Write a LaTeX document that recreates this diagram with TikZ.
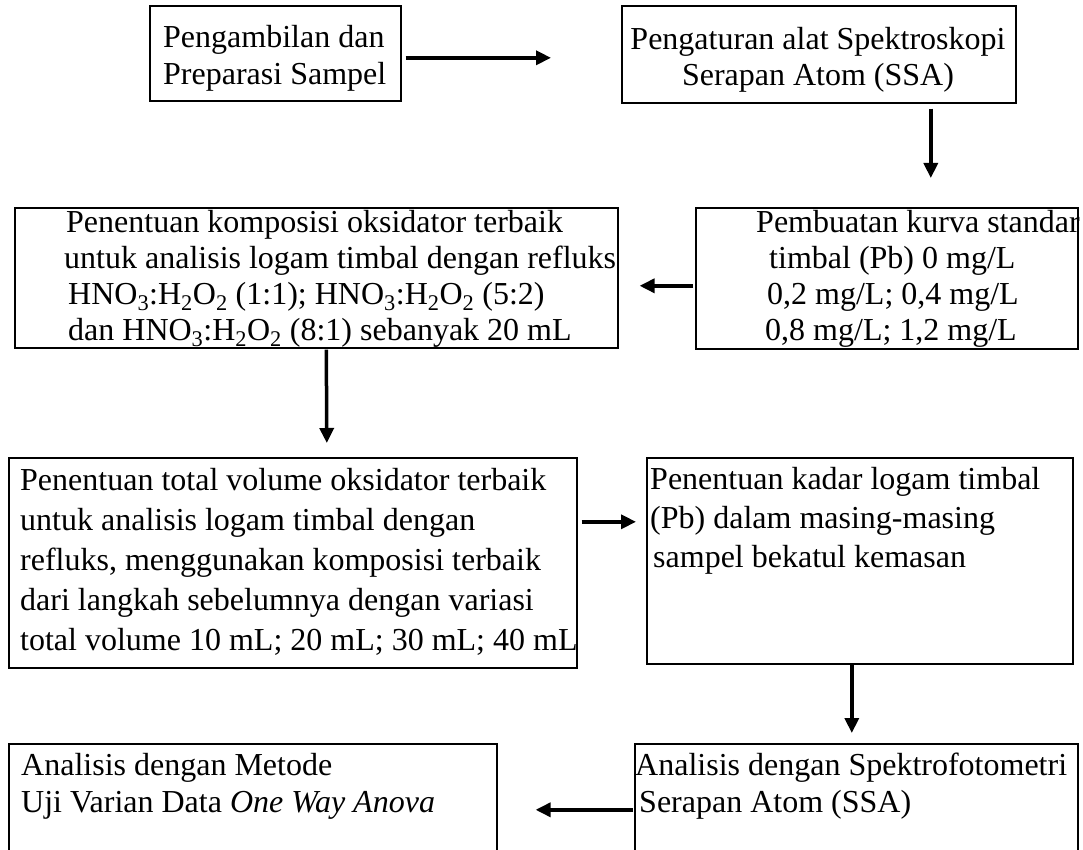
\documentclass[tikz,border=0pt]{standalone}
\usepackage{fontspec}
\setmainfont{Liberation Serif}
\usetikzlibrary{arrows.meta}
\tikzset{
  box/.style={draw, line width=1.6pt, anchor=north west, inner sep=0pt},
  txt/.style={anchor=base west, align=left, inner sep=0pt, font=\fontsize{32}{36}\selectfont},
  txtw/.style={txt, font=\fontsize{32}{40}\selectfont},
  ar/.style={-{Triangle[length=15pt,width=14pt]}, line width=3.5pt},
}
\begin{document}
\begin{tikzpicture}[x=1pt,y=-1pt]
  \clip (0,0) rectangle (1083,850);
  % kotak
  \node[box, minimum width=251pt, minimum height=95pt] (ambil) at (149,5) {};
  \node[box, minimum width=394pt, minimum height=97pt] (atur) at (621,5) {};
  \node[box, minimum width=603pt, minimum height=140pt] (komp) at (14,207) {};
  \node[box, minimum width=382pt, minimum height=141pt] (kurva) at (695,207) {};
  \node[box, minimum width=568pt, minimum height=210pt] (vol) at (8,457) {};
  \node[box, minimum width=426pt, minimum height=206pt] (kadar) at (646,457) {};
  \node[box, minimum width=443pt, minimum height=150pt] (aas) at (634,743) {};
  \node[box, minimum width=488pt, minimum height=150pt] (anova) at (8,743) {};
  % teks (base = baris terakhir)
  \node[txt, font=\fontsize{32}{37}\selectfont] (ambilT) at (163,85) {Pengambilan dan\\Preparasi Sampel};
  \node[txt, align=center, anchor=base] (aturT) at (818,86) {Pengaturan alat Spektroskopi\\Serapan Atom (SSA)};
  \node[txt] (kompT) at (64,340) {\hspace*{2pt}Penentuan komposisi oksidator terbaik\\
    untuk analisis logam timbal dengan refluks\\
    \hspace*{4pt}HNO\textsubscript{3}:H\textsubscript{2}O\textsubscript{2} (1:1); HNO\textsubscript{3}:H\textsubscript{2}O\textsubscript{2} (5:2)\\
    \hspace*{4pt}dan HNO\textsubscript{3}:H\textsubscript{2}O\textsubscript{2} (8:1) sebanyak 20 mL};
  \node[txt] (kurvaT) at (756,340) {Pembuatan kurva standar\\
    \hspace*{13pt}timbal (Pb) 0 mg/L\\
    \hspace*{11pt}0,2 mg/L; 0,4 mg/L\\
    \hspace*{9pt}0,8 mg/L; 1,2 mg/L};
  \node[txtw] (volT) at (20,650) {Penentuan total volume oksidator terbaik\\
    untuk analisis logam timbal dengan\\
    refluks, menggunakan komposisi terbaik\\
    dari langkah sebelumnya dengan variasi\\
    total volume 10 mL; 20 mL; 30 mL; 40 mL};
  \node[txtw, font=\fontsize{32}{39}\selectfont] (kadarT) at (650,567) {Penentuan kadar logam timbal\\
    (Pb) dalam masing-masing\\
    \hspace*{3pt}sampel bekatul kemasan};
  \node[txt, font=\fontsize{32}{37}\selectfont] (aasT) at (635,812) {Analisis dengan Spektrofotometri\\
    \hspace*{4pt}Serapan Atom (SSA)};
  \node[txt, font=\fontsize{32}{37}\selectfont] (anovaT) at (21,812) {Analisis dengan Metode\\
    Uji Varian Data \textit{One Way Anova}};
  % panah
  \draw[ar] ([shift={(4pt,-4.5pt)}]ambil.east) -- ([shift={(-70pt,-3.5pt)}]atur.west);
  \draw[ar] ([shift={(112pt,-5pt)}]atur.south) -- ([shift={(44pt,29pt)}]kurva.north);
  \draw[ar] ([shift={(-2pt,-7.5pt)}]kurva.west) -- ([shift={(21pt,-8pt)}]komp.east);
  \draw[ar] ([shift={(10pt,-1pt)}]komp.south) -- ([shift={(34pt,14pt)}]vol.north);
  \draw[ar] ([shift={(4pt,41pt)}]vol.east) -- ([shift={(-10pt,39pt)}]kadar.west);
  \draw[ar] ([shift={(-8pt,0pt)}]kadar.south) -- ([shift={(-4.5pt,10pt)}]aas.north);
  \draw[ar] ([shift={(-1pt,9pt)}]aas.west) -- ([shift={(38pt,9pt)}]anova.east);
\end{tikzpicture}
\end{document}
